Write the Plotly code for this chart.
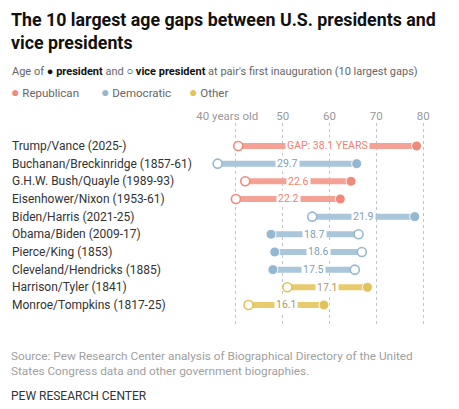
import plotly.graph_objects as go

# pairs, top to bottom as in the chart
pairs = ["Trump/Vance (2025-)", "Buchanan/Breckinridge (1857-61)", "G.H.W. Bush/Quayle (1989-93)",
         "Eisenhower/Nixon (1953-61)", "Biden/Harris (2021-25)", "Obama/Biden (2009-17)",
         "Pierce/King (1853)", "Cleveland/Hendricks (1885)", "Harrison/Tyler (1841)",
         "Monroe/Tompkins (1817-25)"]
party = ["Republican", "Democratic", "Republican", "Republican", "Democratic",
         "Democratic", "Democratic", "Democratic", "Other", "Other"]
pres_age = [78.6, 65.8, 64.6, 62.3, 78.2, 47.5, 48.3, 47.9, 68.1, 58.8]
vp_age = [40.5, 36.1, 42.0, 40.0, 56.3, 66.2, 66.9, 65.4, 51.0, 42.7]
gap = [38.1, 29.7, 22.6, 22.2, 21.9, 18.7, 18.6, 17.5, 17.1, 16.1]

tick_vals = [40, 50, 60, 70, 80]
tick_text = ["40 years old" + "\u00a0" * 6, "50", "60", "70", "80"]

dot_col = {"Republican": "#F08A7D", "Democratic": "#94B8D2", "Other": "#E2C25A"}
bar_col = {"Republican": "#F5A296", "Democratic": "#A9C6DB", "Other": "#E8CB6C"}
txt_col = {"Republican": "#EE7F72", "Democratic": "#7F9FB8", "Other": "#A99A6A"}

# page puts the figure 8px in from the corner, so shrink it to fit the window
OFF = 8
W, H = 459 - OFF, 409 - OFF
L, R, T, B = 197, 19, 115, 83  # plot area in figure pixels


def px(x):
    # window pixel x -> paper x
    return (x - OFF - L) / (W - L - R)


def py(y):
    # window pixel y -> paper y
    return (H - B - (y - OFF)) / (H - T - B)


fig = go.Figure()

# bars, one trace per party
for p in ["Republican", "Democratic", "Other"]:
    xs, ys = [], []
    for i in range(len(pairs)):
        if party[i] == p:
            xs += [vp_age[i], pres_age[i], None]
            ys += [pairs[i], pairs[i], None]
    fig.add_trace(go.Scatter(x=xs, y=ys, mode="lines", line=dict(color=bar_col[p], width=6),
                             hoverinfo="skip", showlegend=False))

# president (filled) and vice president (open)
fig.add_trace(go.Scatter(x=pres_age, y=pairs, mode="markers", showlegend=False,
                         marker=dict(size=10, color=[dot_col[p] for p in party],
                                     line=dict(color="white", width=1))))
fig.add_trace(go.Scatter(x=vp_age, y=pairs, mode="markers", showlegend=False,
                         marker=dict(size=9, color="white",
                                     line=dict(color=[dot_col[p] for p in party], width=1.6))))

anns = []
for i in range(len(pairs)):
    label = f"GAP: {gap[i]:.1f} YEARS" if i == 0 else f"{gap[i]:.1f}"
    anns.append(dict(x=(pres_age[i] + vp_age[i]) / 2, y=pairs[i], xref="x", yref="y", text=label,
                     showarrow=False, bgcolor="white", borderpad=1, yanchor="middle",
                     font=dict(size=10.5, color=txt_col[party[i]], family="Roboto")))
    anns.append(dict(x=px(10), y=pairs[i], xref="paper", yref="y", text=pairs[i], xanchor="left",
                     yanchor="middle", showarrow=False,
                     font=dict(size=12, color="#333", family="Roboto")))

anns.append(dict(x=px(9), y=py(31), xref="paper", yref="paper", xanchor="left", yanchor="middle",
                 showarrow=False, align="left",
                 text="<b>The 10 largest age gaps between U.S. presidents and<br>vice presidents</b>",
                 font=dict(size=17.8, color="#111", family="Roboto")))
anns.append(dict(x=px(10), y=py(72), xref="paper", yref="paper", xanchor="left", yanchor="middle",
                 showarrow=False,
                 text="Age of <span style='color:#111'>● <b>president</b></span> and "
                      "<span style='color:#111'>○ <b>vice president</b></span> at pair's first inauguration (10 largest gaps)",
                 font=dict(size=11, color="#666", family="Roboto")))
for name, x in [("Republican", 9), ("Democratic", 99), ("Other", 187)]:
    anns.append(dict(x=px(x), y=py(92), xref="paper", yref="paper", xanchor="left", yanchor="middle",
                     showarrow=False,
                     text=f"<span style='color:{dot_col[name]};font-size:14px'>●</span> {name}",
                     font=dict(size=11.5, color="#666", family="Roboto")))
anns.append(dict(x=px(9), y=py(363), xref="paper", yref="paper", xanchor="left", yanchor="middle",
                 showarrow=False, align="left",
                 text="Source: Pew Research Center analysis of Biographical Directory of the United<br>"
                      "States Congress data and other government biographies.",
                 font=dict(size=11.8, color="#a0a0a0", family="Roboto")))
anns.append(dict(x=px(9), y=py(396), xref="paper", yref="paper", xanchor="left", yanchor="middle",
                 showarrow=False,
                 text="PEW RESEARCH CENTER", font=dict(size=12, color="#333", family="Roboto")))

fig.update_layout(
    width=W, height=H, margin=dict(l=L, r=R, t=T, b=B),
    paper_bgcolor="white", plot_bgcolor="white",
    annotations=anns,
    xaxis=dict(range=[33.4, 83.6], side="top", tickvals=tick_vals, ticktext=tick_text, tickangle=0,
               showgrid=True, gridcolor="#c4c4c4", griddash="dot", gridwidth=1, zeroline=False,
               showline=False, ticks="", tickfont=dict(size=11.5, color="#999", family="Roboto")),
    yaxis=dict(categoryorder="array", categoryarray=pairs, range=[10.19, -1.30],
               showticklabels=False, showgrid=False, zeroline=False, showline=False),
)

fig.write_html("out.html")
